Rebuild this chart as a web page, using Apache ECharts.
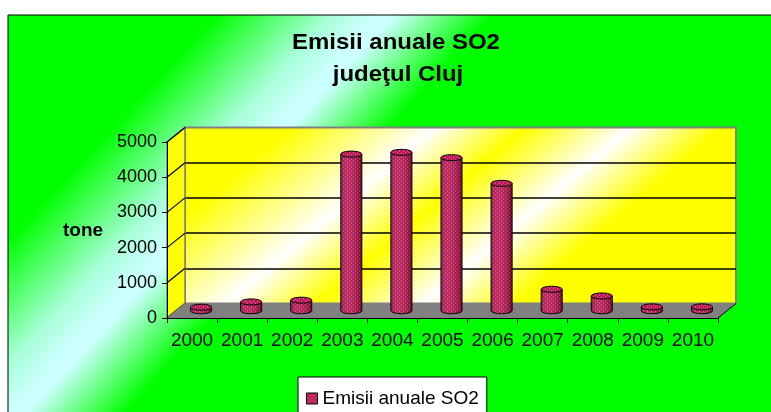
<!DOCTYPE html>
<html>
<head>
<meta charset="utf-8">
<script src="https://cdn.jsdelivr.net/npm/echarts@6/dist/echarts.min.js"></script>
<style>html,body{margin:0;padding:0;background:#fff}#c{width:771px;height:412px}</style>
</head>
<body>
<div id="c"></div>
<script>
// ---- data ----
const years = ['2000','2001','2002','2003','2004','2005','2006','2007','2008','2009','2010'];
const emissions = [100, 250, 300, 4450, 4500, 4350, 3620, 610, 420, 110, 110];
const yTicks = [0, 1000, 2000, 3000, 4000, 5000];
const seriesName = 'Emisii anuale SO2';
const titleLines = ['Emisii anuale SO2', 'judeţul Cluj'];
const yAxisTitle = 'tone';

// ---- styling ----
const FONT = '"Liberation Sans", Arial, sans-serif';
const DX = 18, DY = -14.5; // 3D depth offset

function makePattern() {
  const c = document.createElement('canvas');
  c.width = 4; c.height = 4;
  const g = c.getContext('2d');
  g.fillStyle = '#e0123a'; g.fillRect(0, 0, 4, 4);
  g.fillStyle = '#7468cc';
  g.fillRect(1, 0, 1, 2);
  g.fillRect(3, 2, 1, 2);
  g.fillStyle = '#b01848';
  g.fillRect(1, 2, 1, 1);
  g.fillRect(3, 0, 1, 1);
  return c;
}
const pattern = { image: makePattern(), repeat: 'repeat' };

const G = echarts.graphic;
const outerGrad = new G.LinearGradient(0, 0, 621, 574, [
  { offset: 0, color: '#00ff00' },
  { offset: 0.2, color: '#00ff00' },
  { offset: 0.3, color: '#a8ffd8' },
  { offset: 0.34, color: '#ccffff' },
  { offset: 0.355, color: '#ccffff' },
  { offset: 0.44, color: '#00ff00' },
  { offset: 1, color: '#00ff00' }
], true);
const wallGrad = new G.LinearGradient(185, 128, 501, 501, [
  { offset: 0, color: '#ffff00' },
  { offset: 0.14, color: '#ffff00' },
  { offset: 0.33, color: '#ffffff' },
  { offset: 0.45, color: '#ffff00' },
  { offset: 0.59, color: '#ffffff' },
  { offset: 0.71, color: '#ffff00' },
  { offset: 1, color: '#ffff00' }
], true);

const chart = echarts.init(document.getElementById('c'), null, { renderer: 'canvas' });

const yMin = yTicks[0], yMax = yTicks[yTicks.length - 1], yInt = yTicks[1] - yTicks[0];

const option = {
  backgroundColor: '#ffffff',
  animation: false,
  graphic: [
    { type: 'rect', z: -100, shape: { x: 8, y: 15, width: 800, height: 420 },
      style: { fill: outerGrad, stroke: '#000', lineWidth: 1 } },
    { type: 'text', z: 50, x: 396, y: 43.4, scaleX: 1.09,
      style: { text: titleLines[0], x: 0, y: 0, fontSize: 22, fontWeight: 'bold', fontFamily: FONT, fill: '#000', align: 'center', verticalAlign: 'middle' } },
    { type: 'text', z: 50, x: 398, y: 74.5, scaleX: 1.09,
      style: { text: titleLines[1], x: 0, y: 0, fontSize: 22, fontWeight: 'bold', fontFamily: FONT, fill: '#000', align: 'center', verticalAlign: 'middle' } },
    { type: 'text', z: 50, x: 83, y: 231,
      style: { text: yAxisTitle, x: 0, y: 0, fontSize: 19, fontWeight: 'bold', fontFamily: FONT, fill: '#000', align: 'center', verticalAlign: 'middle' } }
  ],
  legend: {
    data: [seriesName],
    left: 298, top: 377,
    padding: [12, 8, 14, 8],
    backgroundColor: '#ffffff',
    borderColor: '#000', borderWidth: 1,
    icon: 'rect', itemWidth: 11, itemHeight: 11, itemGap: 6,
    itemStyle: { borderColor: '#000', borderWidth: 1 },
    textStyle: { fontSize: 19, fontFamily: FONT, color: '#000', padding: [0, 6, 0, 0] }
  },
  grid: [
    { left: 167, top: 142, right: 53, bottom: 94, containLabel: false },
    { left: 185, top: 127.5, right: 35, bottom: 108.5, containLabel: false,
      show: true, backgroundColor: wallGrad, borderColor: '#808080', borderWidth: 2 }
  ],
  xAxis: [
    { gridIndex: 0, type: 'category', data: years, z: 10,
      axisLine: { lineStyle: { color: '#000', width: 1 } },
      axisTick: { show: true, length: 5, lineStyle: { color: '#000' } },
      axisLabel: { interval: 0, margin: 13, fontSize: 19, fontFamily: FONT, color: '#000' } },
    { gridIndex: 1, type: 'category', data: years, show: false }
  ],
  yAxis: [
    { gridIndex: 0, type: 'value', min: yMin, max: yMax, interval: yInt, z: 10,
      axisLine: { show: true, lineStyle: { color: '#000', width: 1 } },
      axisTick: { show: true, length: 5, lineStyle: { color: '#000' } },
      axisLabel: { margin: 10, fontSize: 18, fontFamily: FONT, color: '#000',
        formatter: function (v) { return String(v); } },
      splitLine: { show: false } },
    { gridIndex: 1, type: 'value', min: yMin, max: yMax, interval: yInt,
      axisLine: { show: false }, axisTick: { show: false }, axisLabel: { show: false },
      splitLine: { show: true, showMinLine: false, showMaxLine: false, lineStyle: { color: '#000', width: 1.5 } } }
  ],
  series: [
    {
      name: 'walls', type: 'custom', xAxisIndex: 0, yAxisIndex: 0, z: 2, silent: true,
      data: [0],
      renderItem: function (params, api) {
        const cs = params.coordSys;
        const x = cs.x, y = cs.y, w = cs.width, h = cs.height;
        const children = [];
        children.push({ type: 'polygon',
          shape: { points: [[x, y + h], [x, y], [x + DX, y + DY], [x + DX, y + h + DY]] },
          style: { fill: '#ffff00', stroke: '#808080', lineWidth: 1.5 } });
        yTicks.forEach(function (v) {
          const py = api.coord([0, v])[1];
          children.push({ type: 'line', shape: { x1: x, y1: py, x2: x + DX, y2: py + DY },
            style: { stroke: '#000', lineWidth: 1.2 } });
        });
        children.push({ type: 'polygon',
          shape: { points: [[x, y + h], [x + w, y + h], [x + w + DX, y + h + DY], [x + DX, y + h + DY]] },
          style: { fill: '#808080', stroke: '#808080', lineWidth: 1 } });
        children.push({ type: 'line', shape: { x1: x + w, y1: y + h, x2: x + w + DX, y2: y + h + DY },
          style: { stroke: '#000', lineWidth: 1 } });
        return { type: 'group', children: children };
      }
    },
    {
      name: seriesName, type: 'custom', xAxisIndex: 0, yAxisIndex: 0, z: 3,
      itemStyle: { color: pattern, borderColor: '#000' },
      data: emissions.map(function (v, i) { return [i, v]; }),
      encode: { x: 0, y: 1 },
      renderItem: function (params, api) {
        const top = api.coord([api.value(0), api.value(1)]);
        const bot = api.coord([api.value(0), 0]);
        const bw = api.size([1, 0])[0] * 0.42;
        const cx = top[0] + DX / 2;
        const yT = top[1] + DY / 2, yB = bot[1] + DY / 2;
        const rx = bw / 2, ry = 3;
        const x0 = cx - rx, x1 = cx + rx;
        const pathData = 'M' + x0 + ' ' + yT + 'L' + x0 + ' ' + yB +
          'A' + rx + ' ' + ry + ' 0 0 0 ' + x1 + ' ' + yB + 'L' + x1 + ' ' + yT + 'Z';
        return {
          type: 'group',
          children: [
            { type: 'path', shape: { pathData: pathData },
              style: { fill: pattern, stroke: '#000', lineWidth: 1 } },
            { type: 'path', shape: { pathData: pathData },
              style: { fill: new G.LinearGradient(0, 0, 1, 0, [
                { offset: 0, color: 'rgba(0,0,0,0.2)' },
                { offset: 0.35, color: 'rgba(255,255,255,0.05)' },
                { offset: 0.8, color: 'rgba(0,0,0,0.15)' },
                { offset: 1, color: 'rgba(0,0,0,0.45)' }
              ]), stroke: null } },
            { type: 'ellipse', shape: { cx: cx, cy: yT, rx: rx, ry: ry },
              style: { fill: pattern, stroke: '#000', lineWidth: 1 } }
          ]
        };
      }
    }
  ]
};
chart.setOption(option);
</script>
</body>
</html>
